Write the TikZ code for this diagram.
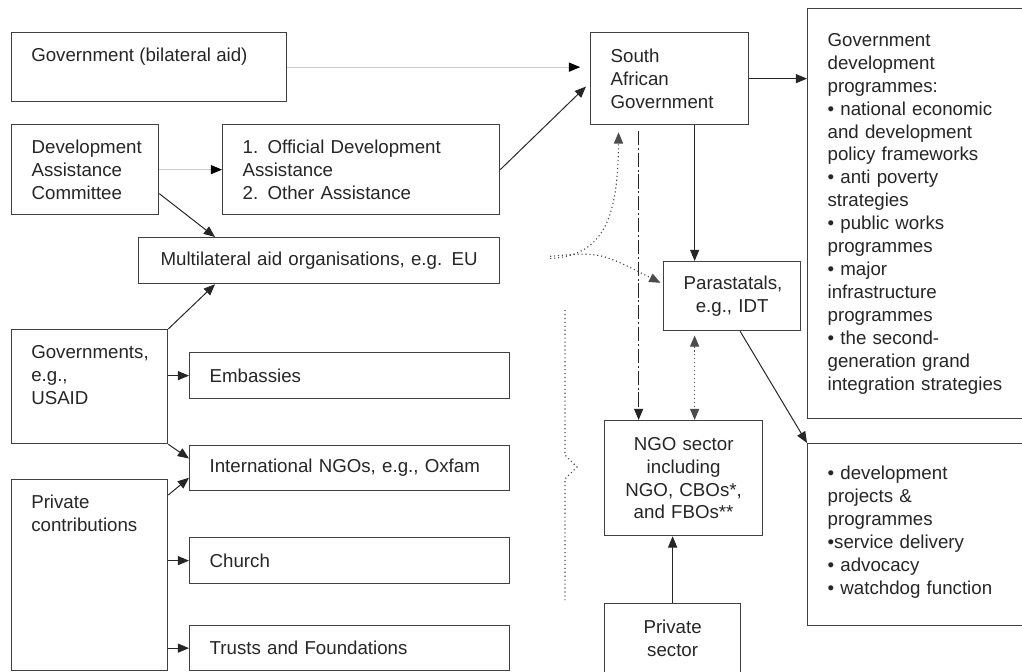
\documentclass[tikz,border=0pt]{standalone}
\usepackage{fontspec}
\setmainfont{Liberation Sans}
\usetikzlibrary{positioning,arrows.meta}

\newcommand{\bxfont}{\fontsize{13.3}{16.3}\selectfont}

\begin{document}
\begin{tikzpicture}[x=0.025cm, y=-0.025cm,
    >={Triangle[length=8pt,width=6.5pt]},
    box/.style={rectangle, draw=black!75, line width=0.9pt, anchor=north west, inner xsep=0.5cm, inner ysep=0pt, align=left, font=\bxfont, text=black!85},
    mid/.style={box, align=center},
    sz/.style 2 args={minimum width=#1*0.025cm, minimum height=#2*0.025cm, text width=#1*0.025cm-1cm},
    lbl/.style={anchor=north west, align=left, inner xsep=0.5cm, inner ysep=0.4cm, font=\bxfont, text=black!85},
    link/.style={->, line width=0.7pt, black!85},
    faint/.style={-{Triangle[length=8pt,width=6.5pt,color=black]}, line width=0.6pt, black!20},
    dots/.style={dotted, line width=0.8pt, black!70},
  ]
  \useasboundingbox (0,0) rectangle (1022,672);
  \fill[white] (0,0) rectangle (1022,672);
  \clip (0,0) rectangle (1022,672);

  % donors
  \node[box, sz={275}{69}, label={[lbl]north west:Government (bilateral aid)}] (govbil) at (11,32) {};
  \node[box, sz={147}{90}] (dac) at (11,124) {Development\\Assistance\\Committee};
  \node[box, sz={277}{90}] (oda) at (222,124) {1.\enspace Official Development\\Assistance\\2.\enspace Other Assistance};
  \node[mid, sz={361}{46}] (multi) at (138,237) {Multilateral aid organisations, e.g. EU};
  \node[box, sz={156}{114}, label={[lbl]north west:{Governments,\\e.g.,\\USAID}}] (usaid) at (11,329) {};
  \node[box, sz={156}{191}, label={[lbl]north west:Private\\contributions}] (privc) at (11,479) {};

  % channels
  \node[box, sz={320}{46}] (emb) at (189,352) {Embassies};
  \node[box, sz={320}{45}] (intl) at (189,445) {International NGOs, e.g., Oxfam};
  \node[box, sz={320}{46}] (church) at (189,537) {Church};
  \node[box, sz={320}{45}] (trusts) at (189,625) {Trusts and Foundations};

  % recipients
  \node[box, sz={158}{92}] (sag) at (590,32) {South\\African\\Government};
  \node[box, sz={240}{410}] (gdp) at (807,8) {Government\\development\\programmes:\\• national economic\\and development\\policy frameworks\\• anti poverty\\strategies\\• public works\\programmes\\• major\\infrastructure\\programmes\\• the second-\\generation grand\\integration strategies};
  \node[mid, sz={137}{69}] (para) at (663,261) {Parastatals,\\e.g., IDT};
  \node[mid, sz={158}{115}] (ngo) at (604,420) {NGO sector\\including\\NGO, CBOs*,\\and FBOs**};
  \node[box, sz={240}{182}, text depth=3.1cm] (dvp) at (807,443) {• development\\projects \&\\programmes\\•service delivery\\• advocacy\\• watchdog function};
  \node[mid, sz={136}{69}] (privs) at (604,603) {Private\\sector};

  \coordinate (sgA) at ([xshift=0.625cm]sag.south);
  \coordinate (sgB) at ([xshift=-0.775cm]sag.south);
  \coordinate (sgC) at ([xshift=-1.275cm]sag.south);
  \coordinate (paA) at ([xshift=-0.9375cm]para.south);

  \draw[faint, shorten >=7pt] (govbil.east) -- (govbil.east -| sag.west);
  \draw[faint] (dac.east) -- (dac.east -| oda.west);
  \draw[link, shorten >=4pt] (oda.east) -- ([yshift=-0.1cm]sag.west);
  \draw[link] ([yshift=-0.6cm]dac.east) -- ([xshift=1.925cm]multi.north west);
  \draw[link] (usaid.north east) -- ([xshift=1.925cm]multi.south west);
  \draw[link] (usaid.north east |- emb.west) -- (emb.west);
  \draw[link] (usaid.south east) -- ([yshift=0.24cm]intl.west);
  \draw[link] ([yshift=-0.4cm]privc.north east) -- ([yshift=-0.24cm]intl.west);
  \draw[link] (privc.east |- church.west) -- (church.west);
  \draw[link] (privc.east |- trusts.west) -- (trusts.west);

  \draw[link] (sag.east) -- (sag.east -| gdp.west);
  \draw[link] (sgA) -- (sgA |- para.north);
  \draw[link, dash pattern=on 10pt off 2pt on 1.5pt off 2pt, shorten <=4pt] (sgB) -- (sgB |- ngo.north);
  \draw[dots, ->, shorten <=1.25cm, shorten >=5pt] (multi.east) .. controls (605,256) and (618,215) .. (sgC);
  \draw[dots, ->, shorten <=1.25cm, shorten >=2pt] (multi.east) .. controls (600,252) .. ([yshift=0.3cm]para.west);
  \draw[dots, <->, shorten <=3pt] (paA) -- (paA |- ngo.north);
  \draw[link] ([xshift=0.2cm]para.south) -- (dvp.north west);
  \draw[link] (privs.north) -- (privs.north |- ngo.south);

  % dotted brace
  \draw[dots] (565,310) -- (565,455) -- (577,467) -- (565,479) -- (565,600);
\end{tikzpicture}
\end{document}
